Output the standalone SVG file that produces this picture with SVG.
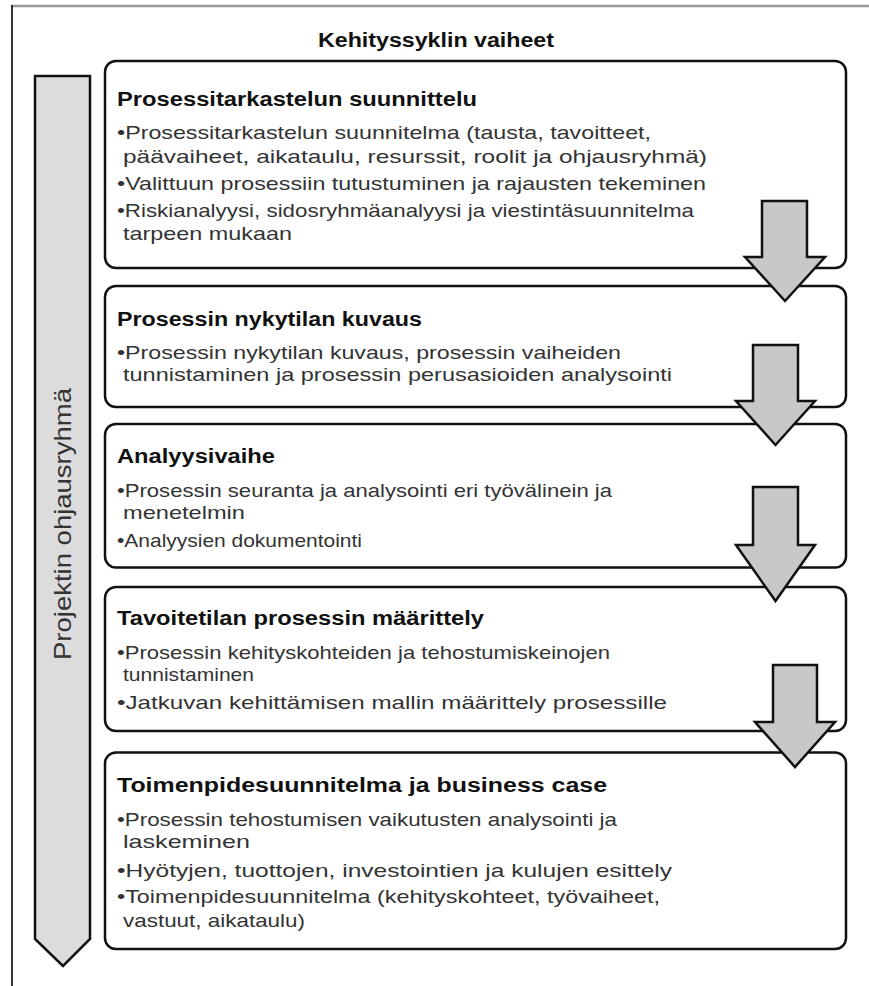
<svg xmlns="http://www.w3.org/2000/svg" width="869" height="986" viewBox="0 0 869 986">
<style>
.frame-top{stroke:#9a9a9a;stroke-width:2.5;fill:none}
.frame-left{stroke:#333;stroke-width:2;fill:none}
.box{fill:#fff;stroke:#111;stroke-width:2.5}
.arrow{fill:#c8c8c8;stroke:#111;stroke-width:2.5;stroke-linejoin:miter}
.side{fill:#dcdcdc;stroke:#111;stroke-width:2.5}
.t{font-family:"Liberation Sans",Arial,sans-serif;font-weight:bold;font-size:20px;fill:#111}
.h{font-family:"Liberation Sans",Arial,sans-serif;font-weight:bold;font-size:20px;fill:#111}
.b{font-family:"Liberation Sans",Arial,sans-serif;font-size:19px;fill:#333}
.s{font-family:"Liberation Sans",Arial,sans-serif;font-size:24px;fill:#333}
</style>
<line class="frame-top" x1="11" y1="6" x2="869" y2="6"/>
<line class="frame-left" x1="12" y1="5" x2="12" y2="986"/>
<text class="t" x="318" y="47" textLength="236" lengthAdjust="spacingAndGlyphs">Kehityssyklin vaiheet</text>
<g id="side-arrow">
<polygon class="side" points="35,76 90,76 90,939 63,966 35,939"/>
<text class="s" transform="translate(71,524) rotate(-90)" text-anchor="middle" textLength="272" lengthAdjust="spacingAndGlyphs">Projektin ohjausryhmä</text>
</g>
<g id="box1">
<rect class="box" x="105" y="61" width="741" height="207" rx="11"/>
<text class="h" x="117" y="106" textLength="360" lengthAdjust="spacingAndGlyphs">Prosessitarkastelun suunnittelu</text>
<text class="b" x="117" y="139" textLength="534" lengthAdjust="spacingAndGlyphs">•Prosessitarkastelun suunnitelma (tausta, tavoitteet,</text>
<text class="b" x="123" y="162.5" textLength="584" lengthAdjust="spacingAndGlyphs">päävaiheet, aikataulu, resurssit, roolit ja ohjausryhmä)</text>
<text class="b" x="117" y="190" textLength="589" lengthAdjust="spacingAndGlyphs">•Valittuun prosessiin tutustuminen ja rajausten tekeminen</text>
<text class="b" x="117" y="216.5" textLength="577" lengthAdjust="spacingAndGlyphs">•Riskianalyysi, sidosryhmäanalyysi ja viestintäsuunnitelma</text>
<text class="b" x="123" y="240" textLength="169" lengthAdjust="spacingAndGlyphs">tarpeen mukaan</text>
</g>
<g id="box2">
<rect class="box" x="105" y="286" width="741" height="121" rx="11"/>
<text class="h" x="117" y="326" textLength="305" lengthAdjust="spacingAndGlyphs">Prosessin nykytilan kuvaus</text>
<text class="b" x="117" y="359" textLength="504" lengthAdjust="spacingAndGlyphs">•Prosessin nykytilan kuvaus, prosessin vaiheiden</text>
<text class="b" x="123" y="381" textLength="549" lengthAdjust="spacingAndGlyphs">tunnistaminen ja prosessin perusasioiden analysointi</text>
</g>
<g id="box3">
<rect class="box" x="105" y="424" width="741" height="143.5" rx="11"/>
<text class="h" x="117" y="463" textLength="158" lengthAdjust="spacingAndGlyphs">Analyysivaihe</text>
<text class="b" x="117" y="497" textLength="495" lengthAdjust="spacingAndGlyphs">•Prosessin seuranta ja analysointi eri työvälinein ja</text>
<text class="b" x="123" y="519" textLength="122" lengthAdjust="spacingAndGlyphs">menetelmin</text>
<text class="b" x="117" y="547" textLength="245" lengthAdjust="spacingAndGlyphs">•Analyysien dokumentointi</text>
</g>
<g id="box4">
<rect class="box" x="105" y="587" width="741" height="144" rx="11"/>
<text class="h" x="117" y="625" textLength="367" lengthAdjust="spacingAndGlyphs">Tavoitetilan prosessin määrittely</text>
<text class="b" x="117" y="659" textLength="493" lengthAdjust="spacingAndGlyphs">•Prosessin kehityskohteiden ja tehostumiskeinojen</text>
<text class="b" x="123" y="681" textLength="131" lengthAdjust="spacingAndGlyphs">tunnistaminen</text>
<text class="b" x="117" y="708.5" textLength="550" lengthAdjust="spacingAndGlyphs">•Jatkuvan kehittämisen mallin määrittely prosessille</text>
</g>
<g id="box5">
<rect class="box" x="105" y="752.5" width="741" height="196.5" rx="11"/>
<text class="h" x="117" y="792" textLength="490" lengthAdjust="spacingAndGlyphs">Toimenpidesuunnitelma ja business case</text>
<text class="b" x="117" y="826" textLength="500" lengthAdjust="spacingAndGlyphs">•Prosessin tehostumisen vaikutusten analysointi ja</text>
<text class="b" x="123" y="848" textLength="127" lengthAdjust="spacingAndGlyphs">laskeminen</text>
<text class="b" x="117" y="876.5" textLength="555" lengthAdjust="spacingAndGlyphs">•Hyötyjen, tuottojen, investointien ja kulujen esittely</text>
<text class="b" x="117" y="903" textLength="543" lengthAdjust="spacingAndGlyphs">•Toimenpidesuunnitelma (kehityskohteet, työvaiheet,</text>
<text class="b" x="123" y="927" textLength="182" lengthAdjust="spacingAndGlyphs">vastuut, aikataulu)</text>
</g>
<g id="connectors">
<polygon class="arrow" points="762,201 807,201 807,257 825,257 785,301 745,257 762,257"/>
<polygon class="arrow" points="753,345 798,345 798,401 815,401 775.5,445 736,401 753,401"/>
<polygon class="arrow" points="753,487 798,487 798,545 815,545 775.5,601 736,545 753,545"/>
<polygon class="arrow" points="773,665 817,665 817,722 835,722 795,767 755,722 773,722"/>
</g>
</svg>
